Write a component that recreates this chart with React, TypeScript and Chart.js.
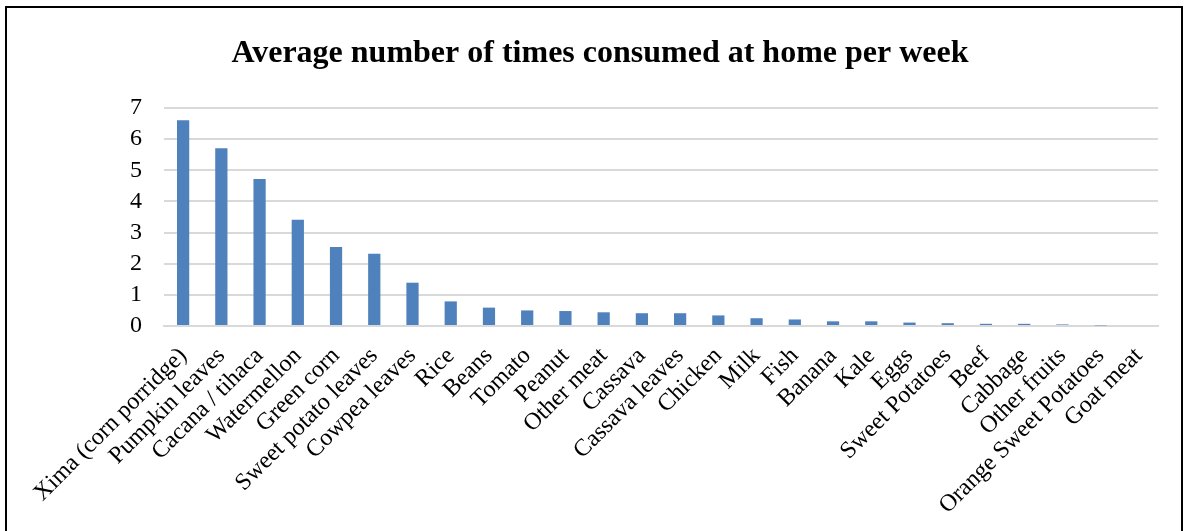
import React, { useEffect, useRef } from "react";
import { Chart, registerables } from "chart.js";

Chart.register(...registerables);

const categories = [
  "Xima (corn porridge)",
  "Pumpkin leaves",
  "Cacana / tihaca",
  "Watermellon",
  "Green corn",
  "Sweet potato leaves",
  "Cowpea leaves",
  "Rice",
  "Beans",
  "Tomato",
  "Peanut",
  "Other meat",
  "Cassava",
  "Cassava leaves",
  "Chicken",
  "Milk",
  "Fish",
  "Banana",
  "Kale",
  "Eggs",
  "Sweet Potatoes",
  "Beef",
  "Cabbage",
  "Other fruits",
  "Orange Sweet Potatoes",
  "Goat meat",
];

const timesPerWeek = [
  6.61, 5.71, 4.72, 3.41, 2.54, 2.32, 1.39, 0.79, 0.59, 0.5, 0.48, 0.44, 0.41,
  0.41, 0.34, 0.25, 0.21, 0.15, 0.15, 0.11, 0.09, 0.07, 0.07, 0.05, 0.02, 0.0,
];

const yTicks = [0, 1, 2, 3, 4, 5, 6, 7];

const chartTitle = "Average number of times consumed at home per week";

const FONT = "'Liberation Serif', 'Times New Roman', serif";

export default function App() {
  const canvasRef = useRef<HTMLCanvasElement | null>(null);

  useEffect(() => {
    const canvas = canvasRef.current;
    if (!canvas) return;
    const chart = new Chart(canvas, {
      type: "bar",
      data: {
        labels: categories,
        datasets: [
          {
            data: timesPerWeek,
            backgroundColor: "#4F81BD",
            borderWidth: 0,
            categoryPercentage: 1,
            barPercentage: 0.32,
          },
        ],
      },
      options: {
        responsive: false,
        animation: false,
        devicePixelRatio: 1,
        layout: { padding: { left: 42, right: 29, top: 0, bottom: 0 } },
        plugins: {
          legend: { display: false },
          tooltip: { enabled: false },
          title: {
            display: true,
            text: chartTitle,
            color: "#000",
            font: { family: FONT, size: 32, weight: "bold", lineHeight: 1.2 },
            padding: { top: 35, bottom: 34.6 },
          },
        },
        scales: {
          x: {
            grid: { display: false, drawTicks: false },
            border: { display: true, color: "#d9d9d9", width: 2 },
            ticks: {
              color: "#000",
              font: { family: FONT, size: 24 },
              maxRotation: 45,
              minRotation: 45,
              autoSkip: false,
              padding: 16,
            },
            afterFit: (scale: any) => {
              scale.height = 531 - 326;
            },
          },
          y: {
            min: 0,
            max: 7,
            afterBuildTicks: (scale: any) => {
              scale.ticks = yTicks.map((v) => ({ value: v }));
            },
            grid: { color: "#d9d9d9", lineWidth: 2, drawTicks: false },
            border: { display: false },
            ticks: {
              color: "#000",
              font: { family: FONT, size: 24 },
              padding: 22,
              autoSkip: false,
            },
            afterFit: (scale: any) => {
              scale.width = 122;
            },
          },
        },
      },
    });
    return () => chart.destroy();
  }, []);

  return (
    <div
      style={{
        position: "fixed",
        left: 0,
        top: 0,
        width: 1187,
        height: 531,
        background: "#fff",
        overflow: "hidden",
      }}
    >
      <canvas
        ref={canvasRef}
        width={1187}
        height={531}
        style={{ position: "absolute", left: 0, top: 0, width: 1187, height: 531 }}
      />
      <div
        style={{
          position: "absolute",
          left: 5,
          top: 6,
          width: 1178,
          height: 600,
          border: "2px solid #000",
          boxSizing: "border-box",
          pointerEvents: "none",
        }}
      />
    </div>
  );
}
